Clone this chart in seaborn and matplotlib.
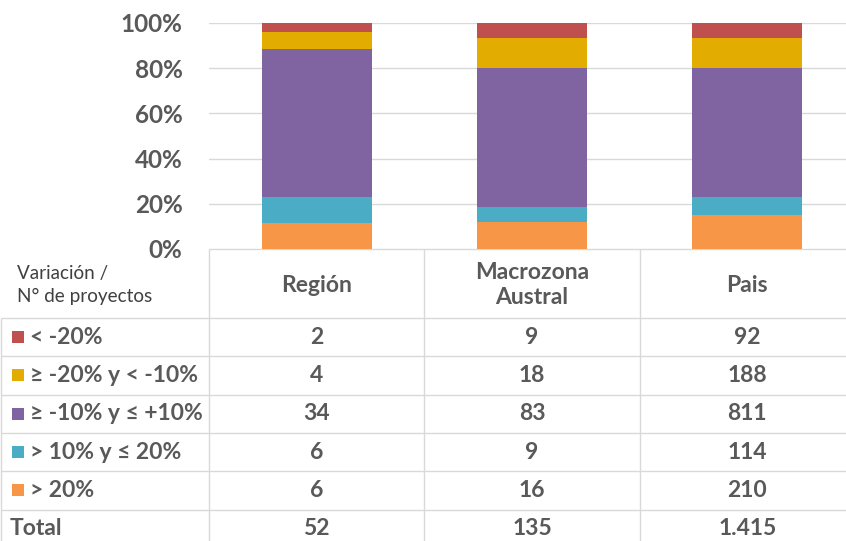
import matplotlib
matplotlib.use("Agg")
import matplotlib.pyplot as plt
import matplotlib.transforms as mtransforms
from matplotlib.patches import Rectangle
import seaborn as sns
import numpy as np

# data (counts of projects per variation band)
categories = ["Región", "Macrozona\nAustral", "Pais"]
band_labels = ["< -20%", "≥ -20% y < -10%", "≥ -10% y ≤ +10%", "> 10% y ≤ 20%", "> 20%"]
band_colors = ["#C0504D", "#E2AC00", "#8064A2", "#4BACC6", "#F79646"]
lt_m20 = [2, 9, 92]
m20_m10 = [4, 18, 188]
m10_p10 = [34, 83, 811]
p10_p20 = [6, 9, 114]
gt_p20 = [6, 16, 210]

counts = np.array([lt_m20, m20_m10, m10_p10, p10_p20, gt_p20], dtype=float)
totals = counts.sum(axis=0)
shares = counts / totals

sns.set_style("white")
plt.rcParams["font.family"] = ["Lato", "DejaVu Sans"]
grey = "#595959"
line_c = "#D9D9D9"
tsize = 16.5

fig = plt.figure(figsize=(8.46, 5.41), dpi=100)
ax = fig.add_axes([209 / 846, (541 - 249) / 541, (855 - 209) / 846, (249 - 23) / 541])

# stacked bars: draw cumulative heights from the top band down
xlabels = [c.replace("\n", " ") for c in categories]
for i in range(len(band_labels)):
    cum = shares[i:].sum(axis=0)
    sns.barplot(x=xlabels, y=cum, color=band_colors[i], saturation=1,
                width=0.51, ax=ax, edgecolor="none", linewidth=0, zorder=2)

ax.set_ylim(0, 1)
ax.set_xlim(-0.5, 2.5)
ax.set_yticks(np.arange(0, 1.01, 0.2))
ax.set_yticklabels([f"{int(round(v * 100))}%" for v in np.arange(0, 1.01, 0.2)],
                   fontsize=17.5, fontweight="bold", color=grey)
ax.tick_params(axis="y", length=0, pad=19)
ax.set_xticks([])
ax.set_xlabel("")
ax.set_ylabel("")
ax.yaxis.grid(True, color=line_c, linewidth=1)
ax.set_axisbelow(True)
for s in ax.spines.values():
    s.set_visible(False)

# data table below the chart
tab = fig.add_axes([0, 0, 1, 1], zorder=-1)
tab.set_xlim(0, 846)
tab.set_ylim(541, 0)
tab.axis("off")
bt = mtransforms.blended_transform_factory(ax.transData, tab.transData)

head_top, head_bot, row_h = 249, 318, 38.3
row_edges = [head_bot + row_h * k for k in range(len(band_labels) + 2)]

tab.hlines(head_top, 209, 846, color=line_c, lw=1)
tab.hlines(row_edges[:-1], 1, 846, color=line_c, lw=1)
tab.vlines([209, 424, 640], head_top, 541, color=line_c, lw=1)
tab.vlines(1, head_bot, 541, color=line_c, lw=1)

tab.text(17, 285, "Variación /\nN° de proyectos", ha="left", va="center",
         fontsize=13.6, color="#404040", linespacing=1.4)
for j, cat in enumerate(categories):
    tab.text(j, 285, cat, transform=bt, ha="center", va="center", fontsize=tsize,
             fontweight="bold", color=grey, linespacing=1.25)

for i, lab in enumerate(band_labels):
    yc = (row_edges[i] + row_edges[i + 1]) / 2
    tab.add_patch(Rectangle((12, yc - 6), 12, 12, color=band_colors[i], lw=0))
    tab.text(30, yc, lab, ha="left", va="center", fontsize=tsize,
             fontweight="bold", color=grey)
    for j in range(len(categories)):
        tab.text(j, yc, f"{int(counts[i, j])}", transform=bt, ha="center",
                 va="center", fontsize=tsize, fontweight="bold", color=grey)

yc = (row_edges[-2] + row_edges[-1]) / 2
tab.text(10, yc, "Total", ha="left", va="center", fontsize=tsize,
         fontweight="bold", color=grey)
for j in range(len(categories)):
    tab.text(j, yc, f"{int(totals[j]):,}".replace(",", "."), transform=bt,
             ha="center", va="center", fontsize=tsize, fontweight="bold", color=grey)

fig.savefig("out.png", dpi=100)
